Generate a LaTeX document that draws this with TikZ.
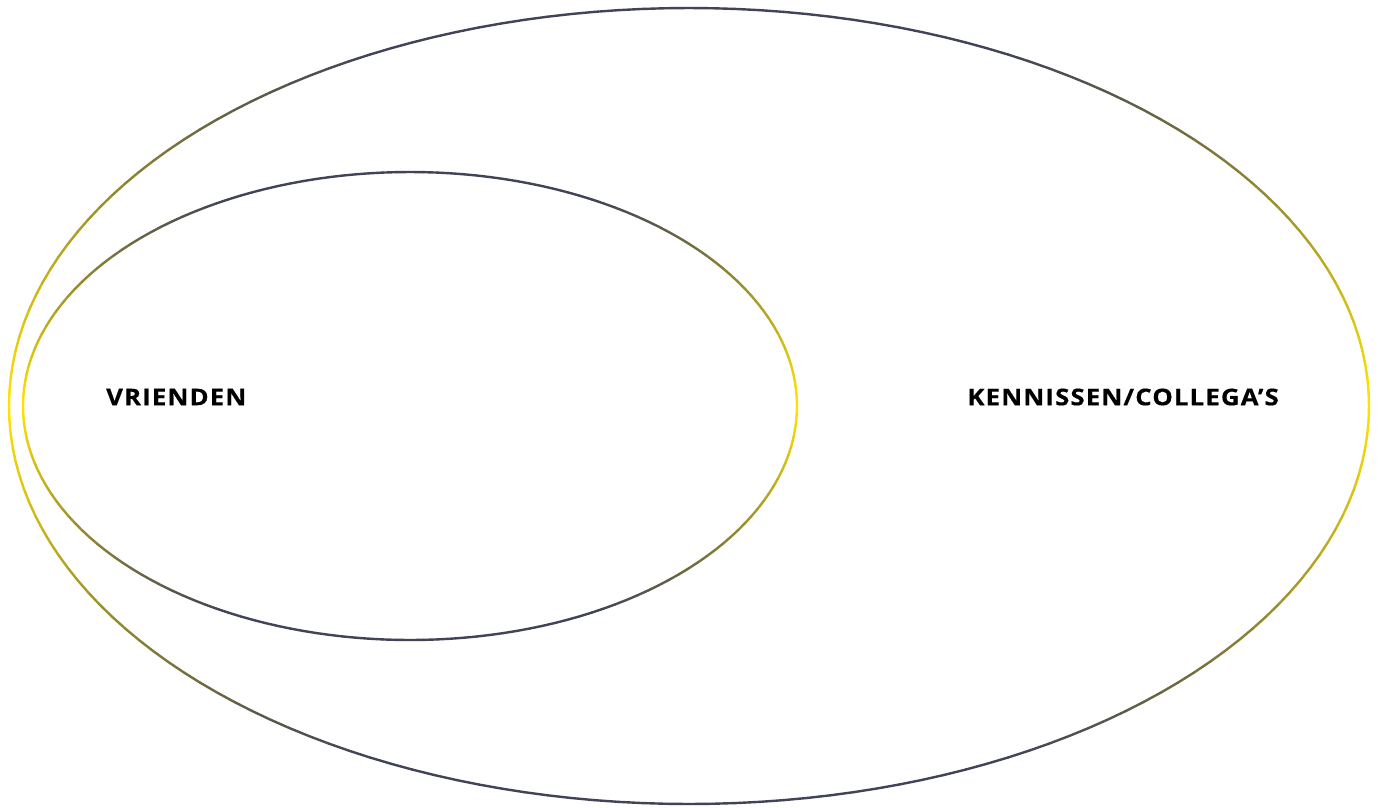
\documentclass[tikz,border=0pt]{standalone}
\usepackage{fontspec}
\setmainfont{Open Sans}
\newfontfamily\lblfont[FakeStretch=1.12,LetterSpace=5,BoldFeatures={FakeBold=0.5}]{Open Sans}
\usetikzlibrary{calc}
\definecolor{slate}{RGB}{64,68,86}
\definecolor{gold}{RGB}{255,228,0}
\tikzset{
  seg/.style={line width=2.4pt, line cap=round},
  lbl/.style={font=\lblfont\fontsize{23}{26}\selectfont\bfseries, text=black, inner sep=0pt}
}
\begin{document}
\begin{tikzpicture}[x=1pt,y=-1pt]
\useasboundingbox[fill=white] (0,0) rectangle (1379,807);
\coordinate (outerc) at (689,406);
\coordinate (innerc) at (410,406);
% outer ellipse with vertical gradient stroke
\foreach \a in {0,2,...,358}{
  \pgfmathsetmacro\s{min(100,abs(sin(\a+1))^1.15*115)}
  \draw[seg, color=slate!\s!gold]
    ($(outerc)+({680*cos(\a)},{398*sin(\a)})$) --
    ($(outerc)+({680*cos(\a+2)},{398*sin(\a+2)})$);
}
% inner ellipse
\foreach \a in {0,2,...,358}{
  \pgfmathsetmacro\s{min(100,abs(sin(\a+1))^1.15*115)}
  \draw[seg, color=slate!\s!gold]
    ($(innerc)+({387*cos(\a)},{234*sin(\a)})$) --
    ($(innerc)+({387*cos(\a+2)},{234*sin(\a+2)})$);
}
\node[lbl, anchor=west] (vrienden) at (106,397) {VRIENDEN};
\node[lbl, anchor=east] (kennissen) at (1279,397) {KENNISSEN/COLLEGA’S};
\end{tikzpicture}
\end{document}
